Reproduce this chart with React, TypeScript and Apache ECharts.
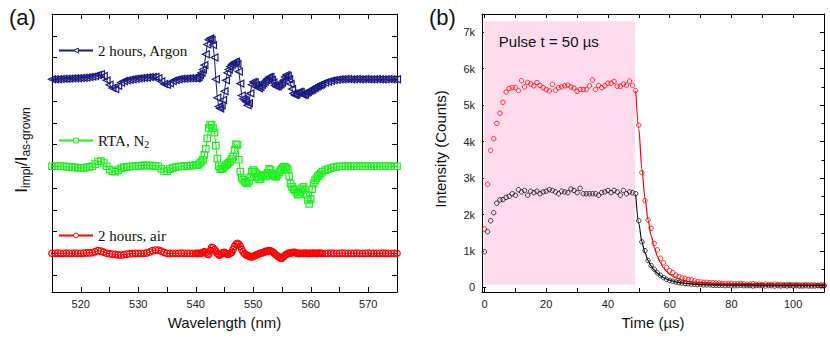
import React, { useEffect, useRef } from 'react';
import * as echarts from 'echarts';

// ---------- Panel (a): normalized PL ratio vs wavelength ----------
function sampleGrid(start: number, end: number, step: number): number[] {
  const out: number[] = [];
  for (let v = start; v <= end + 1e-9; v += step) out.push(Math.round(v * 100) / 100);
  return out;
}
// sampling grid of the spectra (coarser on the flat parts, finer on the features)
const wavelengths: number[] = [
  ...sampleGrid(515, 540, 0.5),
  ...sampleGrid(540.25, 562, 0.25),
  ...sampleGrid(562.5, 575, 0.5),
];

const argonRatio: number[] = [
  // 515 .. 540 (step 0.5)
  9.0, 9.0, 9.0, 9.01, 9.02, 9.02, 9.03, 9.04, 9.05, 9.05,
  9.06, 9.07, 9.08, 9.1, 9.12, 9.15, 9.2, 9.23, 9.15, 8.95,
  8.75, 8.6, 8.55, 8.7, 8.85, 8.92, 8.95, 8.98, 9.0, 9.02,
  9.04, 9.06, 9.07, 9.08, 9.1, 9.1, 9.1, 9.05, 8.9, 8.78,
  8.75, 8.82, 8.92, 8.97, 9.0, 9.02, 9.03, 9.04, 9.05, 9.05,
  9.05,
  // 540.25 .. 562 (step 0.25)
  9.06, 9.1, 9.2, 9.3, 9.45, 9.65, 10.15, 10.6,
  10.82, 10.88, 10.82, 10.57, 10.0, 9.0, 8.15, 7.75,
  7.66, 7.8, 8.05, 8.45, 8.95, 9.3, 9.45, 9.58,
  9.66, 9.73, 9.78, 9.81, 9.7, 9.35, 8.8, 8.25,
  8.1, 8.05, 7.97, 7.8, 7.9, 8.35, 8.75, 8.88,
  8.85, 8.73, 8.63, 8.58, 8.65, 8.75, 8.82, 8.9,
  8.96, 9.03, 9.1, 9.1, 8.97, 8.85, 8.72, 8.66,
  8.68, 8.73, 8.78, 8.85, 8.95, 9.1, 9.2, 9.15,
  9.0, 8.78, 8.55, 8.35, 8.27, 8.3, 8.38, 8.43,
  8.4, 8.32, 8.27, 8.3, 8.38, 8.43, 8.47, 8.5,
  8.53, 8.58, 8.62, 8.66, 8.7, 8.73, 8.76, 8.8,
  // 562.5 .. 575 (step 0.5)
  8.85, 8.89, 8.93, 8.96, 8.98, 9.0, 9.0, 9.01, 9.01, 9.0,
  9.0, 9.01, 9.0, 9.0, 9.01, 9.0, 9.0, 9.0, 9.01, 9.0,
  9.0, 9.0, 9.01, 9.0, 9.0, 9.0,
];

const rtaRatio: number[] = [
  // 515 .. 540
  5.0, 5.0, 5.0, 5.0, 5.0, 4.98, 4.97, 4.96, 4.95, 4.93,
  4.92, 4.93, 4.95, 4.97, 5.0, 5.1, 5.22, 5.24, 5.15, 5.0,
  4.85, 4.77, 4.75, 4.82, 4.9, 4.95, 4.97, 4.98, 5.0, 5.01,
  5.02, 5.03, 5.04, 5.04, 5.03, 5.03, 5.02, 5.0, 4.88, 4.77,
  4.78, 4.87, 4.93, 4.96, 4.98, 5.0, 5.01, 5.02, 5.03, 5.04,
  5.05,
  // 540.25 .. 562
  5.06, 5.08, 5.15, 5.22, 5.3, 5.52, 5.8, 6.28,
  6.75, 6.92, 6.9, 6.75, 6.55, 5.95, 5.35, 5.0,
  4.87, 4.88, 4.9, 4.98, 5.05, 5.1, 5.17, 5.23,
  5.33, 5.44, 5.75, 6.01, 5.98, 5.3, 4.75, 4.48,
  4.38, 4.3, 4.25, 4.21, 4.32, 4.5, 4.75, 4.82,
  4.75, 4.67, 4.5, 4.4, 4.42, 4.55, 4.6, 4.56,
  4.53, 4.7, 4.88, 4.82, 4.65, 4.58, 4.54, 4.52,
  4.6, 4.72, 4.82, 4.9, 4.97, 4.98, 4.93, 4.85,
  4.55, 4.2, 4.05, 3.95, 3.9, 3.8, 3.7, 3.72,
  3.82, 3.98, 4.05, 3.92, 3.7, 3.45, 3.27, 3.5,
  3.95, 4.2, 4.35, 4.45, 4.55, 4.6, 4.67, 4.75,
  // 562.5 .. 575
  4.82, 4.87, 4.92, 4.95, 4.97, 5.0, 5.0, 5.0, 5.01, 5.0,
  5.0, 5.0, 5.01, 5.0, 5.0, 5.0, 5.01, 5.0, 5.0, 5.0,
  5.0, 5.01, 5.0, 5.0, 5.0, 5.0,
];

const airRatio: number[] = [
  // 515 .. 540
  1.0, 1.0, 1.01, 1.0, 1.0, 1.01, 1.0, 1.0, 1.01, 1.0,
  1.0, 1.01, 1.02, 1.02, 1.03, 1.07, 1.12, 1.1, 1.05, 1.0,
  0.98, 0.96, 0.95, 0.93, 0.92, 0.94, 0.96, 0.98, 0.99, 1.0,
  1.0, 1.0, 1.0, 1.02, 1.06, 1.12, 1.15, 1.14, 1.1, 1.04,
  1.0, 0.99, 1.0, 1.0, 1.0, 1.01, 1.0, 1.0, 1.0, 1.0,
  1.0,
  // 540.25 .. 562
  1.0, 1.0, 1.0, 1.01, 1.04, 1.07, 1.03, 0.97,
  0.95, 1.12, 1.27, 1.25, 1.17, 1.1, 1.0, 0.93,
  0.93, 0.98, 1.03, 1.04, 1.0, 0.96, 0.96, 1.0,
  1.04, 1.18, 1.32, 1.42, 1.46, 1.42, 1.32, 1.18,
  1.06, 0.98, 0.93, 0.9, 0.87, 0.85, 0.84, 0.86,
  0.89, 0.92, 0.95, 0.98, 1.0, 1.02, 1.04, 1.07,
  1.09, 1.11, 1.12, 1.11, 1.08, 1.04, 0.98, 0.92,
  0.87, 0.82, 0.78, 0.78, 0.84, 0.9, 0.95, 0.99,
  1.0, 1.02, 1.03, 1.04, 1.04, 1.02, 1.0, 0.99,
  1.0, 1.0, 1.0, 1.01, 1.0, 1.0, 1.0, 1.0,
  1.0, 1.01, 1.0, 1.0, 1.0, 1.01, 1.0, 1.0,
  // 562.5 .. 575
  1.0, 1.0, 1.01, 1.0, 1.0, 1.0, 1.01, 1.0, 1.0, 1.0,
  1.0, 1.01, 1.0, 1.0, 1.0, 1.01, 1.0, 1.0, 1.0, 1.0,
  1.01, 1.0, 1.0, 1.0, 1.0, 1.0,
];

const wlTicks = [520, 525, 530, 535, 540, 545, 550, 555, 560, 565, 570];
const wlLabels = [520, 530, 540, 550, 560, 570];
const ratioTicks = [0, 1, 2, 3, 4, 5, 6, 7, 8, 9, 10, 11];

// ---------- Panel (b): time-resolved intensity ----------
const redCounts: number[] = [
  1600, 2830, 3760, 4080, 4500, 4780, 5080, 5360, 5460, 5480,
  5480, 5400, 5670, 5500, 5620, 5580, 5530, 5620, 5540, 5480,
  5430, 5390, 5570, 5410, 5480, 5500, 5530, 5550, 5500, 5470,
  5380, 5430, 5430, 5430, 5530, 5690, 5430, 5540, 5480, 5530,
  5600, 5600, 5650, 5520, 5520, 5580, 5550, 5660, 5540, 5400,
  4450, 3150, 2380, 1850, 1620, 1210, 1030, 800, 680, 550,
  460, 410, 340, 300, 260, 250, 220, 210, 180, 160,
  150, 140, 140, 130, 130, 120, 120, 110, 110, 110,
  110, 100, 100, 110, 100, 90, 90, 100, 90, 90,
  80, 90, 80, 80, 90, 80, 80, 70, 80, 80,
  70, 80, 70, 70, 80, 70, 70, 70, 60, 70, 70,
];
const blackCounts: number[] = [
  980, 1530, 1830, 2050, 2310, 2400, 2410, 2470, 2500, 2570,
  2530, 2680, 2620, 2660, 2530, 2640, 2600, 2640, 2570, 2620,
  2640, 2680, 2660, 2620, 2570, 2640, 2620, 2600, 2700, 2660,
  2600, 2720, 2570, 2570, 2570, 2570, 2570, 2530, 2600, 2620,
  2660, 2600, 2660, 2620, 2530, 2660, 2570, 2620, 2600, 2570,
  1830, 1250, 1010, 740, 600, 500, 400, 330, 270, 220,
  190, 170, 150, 130, 120, 110, 100, 90, 90, 80,
  80, 70, 70, 70, 60, 60, 60, 60, 50, 60,
  50, 50, 50, 60, 50, 50, 50, 40, 50, 50,
  50, 40, 50, 50, 40, 50, 40, 50, 40, 50,
  40, 50, 40, 40, 50, 40, 40, 40, 50, 40, 40,
];
const fitTimes = [49, 50, 51, 52, 53, 54, 55, 56, 57, 58, 59, 60, 62, 64, 66, 68, 70, 75, 80, 90, 100, 110];
const redFit = [5400, 4350, 3250, 2450, 1850, 1420, 1100, 860, 680, 540, 440, 360, 260, 200, 160, 135, 120, 100, 90, 75, 70, 65];
const blackFit = [2550, 1750, 1250, 950, 740, 590, 480, 390, 320, 270, 230, 200, 155, 125, 105, 90, 80, 70, 65, 60, 55, 55];

const pulseTime = [-0.2, 48.8];
const pulseCounts = [80, 7300];

const timeTicks = [0, 10, 20, 30, 40, 50, 60, 70, 80, 90, 100];
const timeLabels = [0, 20, 40, 60, 80, 100];
const countMajor = [0, 1000, 2000, 3000, 4000, 5000, 6000, 7000];
const countMinor = [500, 1500, 2500, 3500, 4500, 5500, 6500];

const SANS = 'Liberation Sans';
const SERIF = 'Liberation Serif';
const NAVY = '#1a1a85';
const GREEN = '#1ff01f';
const RED = '#ff0000';

const lineAx = { show: true, onZero: false, lineStyle: { color: '#000', width: 1 } };
const tickLabel = { fontFamily: SANS, fontSize: 11, color: '#222' };

function zip(xs: number[], ys: number[]) {
  return ys.map((y, i) => [xs[i], y]);
}

function buildOption(): any {
  const legendBase = {
    itemWidth: 34,
    itemHeight: 6,
    selectedMode: false,
    padding: 0,
    itemStyle: { color: '#fff', borderWidth: 1 },
    textStyle: {
      fontFamily: SERIF,
      fontSize: 15,
      color: '#111',
      rich: { sub: { fontFamily: SERIF, fontSize: 10, color: '#111', padding: [8, 0, 0, 0] } },
    },
  };
  const hidden = { show: false };
  return {
    animation: false,
    backgroundColor: '#fff',
    grid: [
      { left: 52, top: 14, width: 345, height: 278 },
      { left: 482, top: 14, width: 342, height: 278 },
      { left: 482, top: 14, width: 342, height: 278 },
    ],
    graphic: [
      { type: 'text', left: 9, top: 6, style: { text: '(a)', fontFamily: SANS, fontSize: 22, fill: '#111' } },
      { type: 'text', left: 429, top: 6, style: { text: '(b)', fontFamily: SANS, fontSize: 22, fill: '#111' } },
    ],
    legend: [
      { ...legendBase, data: ['2 hours, Argon'], left: 58, top: 43 },
      { ...legendBase, data: ['RTA, N2'], left: 58, top: 133, formatter: () => 'RTA, N{sub|2}' },
      { ...legendBase, data: ['2 hours, air'], left: 58, top: 228 },
    ],
    xAxis: [
      {
        type: 'value', gridIndex: 0, position: 'bottom', min: 515, max: 575,
        axisLine: lineAx, splitLine: hidden,
        axisTick: { inside: true, length: 5, customValues: wlTicks, lineStyle: { color: '#000' } },
        axisLabel: { ...tickLabel, margin: 6, customValues: wlLabels },
        name: 'Wavelength (nm)', nameLocation: 'middle', nameGap: 23,
        nameTextStyle: { fontFamily: SANS, fontSize: 15, color: '#111' },
      },
      {
        type: 'value', gridIndex: 0, position: 'top', min: 515, max: 575,
        axisLine: lineAx, splitLine: hidden,
        axisTick: { inside: true, length: 5, customValues: wlTicks, lineStyle: { color: '#000' } },
        axisLabel: hidden,
      },
      {
        type: 'value', gridIndex: 1, position: 'bottom', min: -0.8, max: 110,
        axisLine: lineAx, splitLine: hidden,
        axisTick: { inside: true, length: 4, customValues: timeTicks, lineStyle: { color: '#000' } },
        axisLabel: { ...tickLabel, margin: 6, customValues: timeLabels },
        name: 'Time (µs)', nameLocation: 'middle', nameGap: 23,
        nameTextStyle: { fontFamily: SANS, fontSize: 15, color: '#111' },
      },
      {
        type: 'value', gridIndex: 1, position: 'top', min: -0.8, max: 110,
        axisLine: lineAx, splitLine: hidden,
        axisTick: { inside: true, length: 4, customValues: timeTicks, lineStyle: { color: '#000' } },
        axisLabel: hidden,
      },
      {
        type: 'value', gridIndex: 2, position: 'bottom', min: -0.8, max: 110,
        axisLine: hidden, axisTick: hidden, axisLabel: hidden, splitLine: hidden,
      },
    ],
    yAxis: [
      {
        type: 'value', gridIndex: 0, position: 'left', min: -0.78, max: 12,
        axisLine: lineAx, splitLine: hidden,
        axisTick: { inside: true, length: 5, customValues: ratioTicks, lineStyle: { color: '#000' } },
        axisLabel: hidden,
        name: 'I{s|impl}/I{s|as-grown}', nameLocation: 'middle', nameGap: 20,
        nameTextStyle: {
          fontFamily: SANS, fontSize: 17, color: '#111', padding: [0, 0, 0, 6],
          rich: { s: { fontFamily: SANS, fontSize: 12, color: '#111', padding: [9, 0, 0, 0] } },
        },
      },
      {
        type: 'value', gridIndex: 0, position: 'right', min: -0.78, max: 12,
        axisLine: lineAx, splitLine: hidden,
        axisTick: { inside: true, length: 5, customValues: ratioTicks, lineStyle: { color: '#000' } },
        axisLabel: hidden,
      },
      {
        type: 'value', gridIndex: 1, position: 'left', min: -125, max: 7500,
        axisLine: lineAx, splitLine: hidden,
        axisTick: { inside: true, length: 4, customValues: countMajor, lineStyle: { color: '#000' } },
        axisLabel: {
          ...tickLabel, margin: 7, customValues: countMajor,
          formatter: (v: number) => (v === 0 ? '0' : `${v / 1000}k`),
        },
        name: 'Intensity (Counts)', nameLocation: 'middle', nameGap: 34,
        nameTextStyle: { fontFamily: SANS, fontSize: 15, color: '#111', padding: [0, 0, 0, 8] },
      },
      {
        type: 'value', gridIndex: 1, position: 'right', min: -125, max: 7500,
        axisLine: lineAx, splitLine: hidden,
        axisTick: { inside: true, length: 4, customValues: countMajor, lineStyle: { color: '#000' } },
        axisLabel: hidden,
      },
      {
        type: 'value', gridIndex: 2, position: 'left', min: -125, max: 7500,
        axisLine: hidden, splitLine: hidden,
        axisTick: { show: true, inside: true, length: 2.5, customValues: countMinor, lineStyle: { color: '#000' } },
        axisLabel: hidden,
      },
      {
        type: 'value', gridIndex: 2, position: 'right', min: -125, max: 7500,
        axisLine: hidden, splitLine: hidden,
        axisTick: { show: true, inside: true, length: 2.5, customValues: countMinor, lineStyle: { color: '#000' } },
        axisLabel: hidden,
      },
    ],
    series: [
      {
        name: '2 hours, Argon', type: 'line', xAxisIndex: 0, yAxisIndex: 0,
        data: zip(wavelengths, argonRatio), showAllSymbol: true,
        symbol: 'triangle', symbolRotate: 90, symbolSize: 7,
        lineStyle: { color: NAVY, width: 1 },
        itemStyle: { color: 'transparent', borderColor: NAVY, borderWidth: 1.2 },
      },
      {
        name: 'RTA, N2', type: 'line', xAxisIndex: 0, yAxisIndex: 0,
        data: zip(wavelengths, rtaRatio), showAllSymbol: true,
        symbol: 'rect', symbolSize: 6.5,
        lineStyle: { color: GREEN, width: 1 },
        itemStyle: { color: 'transparent', borderColor: GREEN, borderWidth: 1.2 },
      },
      {
        name: '2 hours, air', type: 'line', xAxisIndex: 0, yAxisIndex: 0,
        data: zip(wavelengths, airRatio), showAllSymbol: true,
        symbol: 'circle', symbolSize: 6.5,
        lineStyle: { color: RED, width: 1 },
        itemStyle: { color: 'transparent', borderColor: RED, borderWidth: 1.2 },
      },
      {
        name: 'pulse', type: 'line', xAxisIndex: 2, yAxisIndex: 2, data: [],
        silent: true, z: 0,
        markArea: {
          silent: true,
          itemStyle: { color: '#ffdced' },
          label: {
            show: true, position: [15, 13], formatter: 'Pulse t = 50 µs',
            fontFamily: SANS, fontSize: 15, color: '#111',
          },
          data: [[{ coord: [pulseTime[0], pulseCounts[0]] }, { coord: [pulseTime[1], pulseCounts[1]] }]],
        },
      },
      {
        name: 'red data', type: 'scatter', xAxisIndex: 2, yAxisIndex: 2,
        data: redCounts.map((v, t) => [t, v]), symbol: 'circle', symbolSize: 4.5,
        itemStyle: { color: 'transparent', borderColor: RED, borderWidth: 1 }, z: 3,
      },
      {
        name: 'black data', type: 'scatter', xAxisIndex: 2, yAxisIndex: 2,
        data: blackCounts.map((v, t) => [t, v]), symbol: 'circle', symbolSize: 4.5,
        itemStyle: { color: 'transparent', borderColor: '#111', borderWidth: 1 }, z: 3,
      },
      {
        name: 'red fit', type: 'line', xAxisIndex: 2, yAxisIndex: 2,
        data: zip(fitTimes, redFit), symbol: 'none', smooth: 0.3, smoothMonotone: 'x',
        lineStyle: { color: RED, width: 1.2 }, z: 4,
      },
      {
        name: 'black fit', type: 'line', xAxisIndex: 2, yAxisIndex: 2,
        data: zip(fitTimes, blackFit), symbol: 'none', smooth: 0.3, smoothMonotone: 'x',
        lineStyle: { color: '#111', width: 1.2 }, z: 4,
      },
    ],
  };
}

export default function App() {
  const ref = useRef<HTMLDivElement>(null);
  useEffect(() => {
    if (!ref.current) return;
    const chart = echarts.init(ref.current, null, { renderer: 'svg' });
    chart.setOption(buildOption());
    return () => chart.dispose();
  }, []);
  return (
    <div
      ref={ref}
      style={{ position: 'fixed', left: 0, top: 0, width: 830, height: 343, background: '#fff' }}
    />
  );
}
